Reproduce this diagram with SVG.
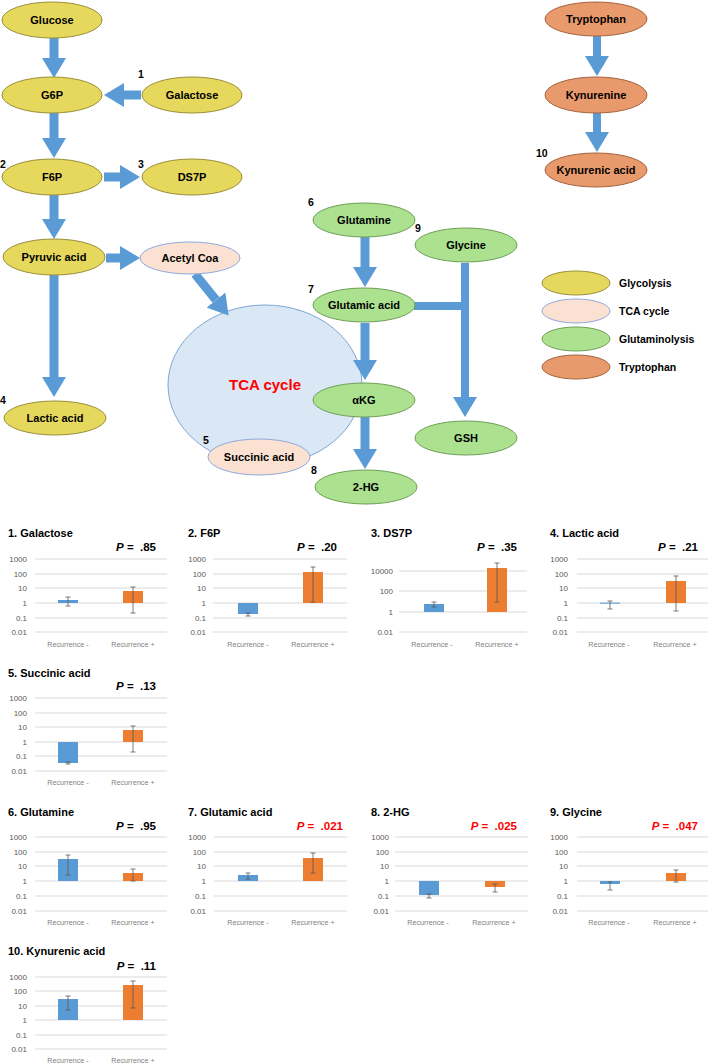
<svg xmlns="http://www.w3.org/2000/svg" width="709" height="1064" viewBox="0 0 709 1064">
<style>
text{font-family:"Liberation Sans",Arial,sans-serif}
.nt{font-size:11px;font-weight:bold;fill:#000;text-anchor:middle}
.num{font-size:10.5px;font-weight:bold;fill:#000}
.gly{fill:#E6D85C;stroke:#9A8F3A;stroke-width:1}
.tca{fill:#FBE1D2;stroke:#8EAADB;stroke-width:1}
.glu{fill:#ACE190;stroke:#6F9F58;stroke-width:1}
.try{fill:#E89A6C;stroke:#A5633E;stroke-width:1}
.arr{stroke:#5B9BD5;stroke-width:9;fill:none}
.lt{font-size:10.5px;font-weight:bold;fill:#000}
.ttl{font-size:11px;font-weight:bold;fill:#000}
.p{font-size:11.5px;font-weight:bold;fill:#000;text-anchor:end}
.pr{fill:#FF0000}
.yl{font-size:8px;fill:#595959;text-anchor:end}
.xl{font-size:7.2px;fill:#7F7F7F;text-anchor:middle}
.gl{stroke:#D9D9D9;stroke-width:1}
.bb{fill:#5B9BD5}
.ob{fill:#ED7D31}
.eb{stroke:#595959;stroke-width:0.8;fill:none}
</style>
<defs>
<marker id="ah" markerUnits="userSpaceOnUse" viewBox="0 0 20 24" markerWidth="20" markerHeight="24" refX="0" refY="12" orient="auto">
<path d="M0,0 L20,12 L0,24 z" fill="#5B9BD5"/>
</marker>
</defs>

<g id="tca-cycle">
<ellipse cx="265" cy="385" rx="97" ry="80" fill="#DAE7F5" stroke="#7FA6D1" stroke-width="1"/>
<text x="265" y="390" font-size="15" font-weight="bold" fill="#FF0000" text-anchor="middle">TCA cycle</text>
</g>

<g id="connectors">
<line class="arr" x1="54" y1="38" x2="54" y2="58" marker-end="url(#ah)"/>
<line class="arr" x1="141" y1="95" x2="124" y2="95" marker-end="url(#ah)"/>
<line class="arr" x1="54" y1="113" x2="54" y2="138" marker-end="url(#ah)"/>
<line class="arr" x1="104" y1="177" x2="120" y2="177" marker-end="url(#ah)"/>
<line class="arr" x1="54" y1="195" x2="54" y2="219" marker-end="url(#ah)"/>
<line class="arr" x1="106" y1="258" x2="120" y2="258" marker-end="url(#ah)"/>
<line class="arr" x1="195" y1="274" x2="216" y2="300" marker-end="url(#ah)"/>
<line class="arr" x1="54" y1="275" x2="54" y2="377" marker-end="url(#ah)"/>
<line class="arr" x1="365" y1="237" x2="365" y2="267" marker-end="url(#ah)"/>
<line class="arr" x1="365" y1="323" x2="365" y2="360" marker-end="url(#ah)"/>
<line class="arr" x1="365" y1="417" x2="365" y2="449" marker-end="url(#ah)"/>
<line class="arr" x1="414" y1="306" x2="469" y2="306" style="stroke-width:8"/>
<line class="arr" x1="465" y1="263" x2="465" y2="397" marker-end="url(#ah)" style="stroke-width:8"/>
<line class="arr" x1="597" y1="36" x2="597" y2="56" marker-end="url(#ah)" style="stroke-width:8"/>
<line class="arr" x1="597" y1="113" x2="597" y2="132" marker-end="url(#ah)" style="stroke-width:8"/>
</g>

<g id="glucose"><ellipse class="gly" cx="52" cy="20" rx="50" ry="18"/><text class="nt" x="52" y="24">Glucose</text></g>
<g id="g6p"><ellipse class="gly" cx="52" cy="95" rx="50" ry="18"/><text class="nt" x="52" y="99">G6P</text></g>
<g id="galactose"><ellipse class="gly" cx="192" cy="95" rx="50" ry="18"/><text class="nt" x="192" y="99">Galactose</text><text class="num" x="138" y="78">1</text></g>
<g id="f6p"><ellipse class="gly" cx="52" cy="177" rx="50" ry="18"/><text class="nt" x="52" y="181">F6P</text><text class="num" x="0" y="168">2</text></g>
<g id="ds7p"><ellipse class="gly" cx="192" cy="177" rx="50" ry="18"/><text class="nt" x="192" y="181">DS7P</text><text class="num" x="138" y="168">3</text></g>
<g id="pyruvic-acid"><ellipse class="gly" cx="54" cy="257" rx="51" ry="18"/><text class="nt" x="54" y="261">Pyruvic acid</text></g>
<g id="acetyl-coa"><ellipse class="tca" cx="190" cy="258" rx="50" ry="16"/><text class="nt" x="190" y="262">Acetyl Coa</text></g>
<g id="lactic-acid"><ellipse class="gly" cx="55" cy="418" rx="51" ry="17"/><text class="nt" x="55" y="422">Lactic acid</text><text class="num" x="0" y="404">4</text></g>
<g id="succinic-acid"><ellipse class="tca" cx="259" cy="457" rx="51" ry="18"/><text class="nt" x="259" y="461">Succinic acid</text><text class="num" x="203" y="444">5</text></g>
<g id="glutamine"><ellipse class="glu" cx="364" cy="220" rx="51" ry="17"/><text class="nt" x="364" y="224">Glutamine</text><text class="num" x="308" y="206">6</text></g>
<g id="glycine"><ellipse class="glu" cx="466" cy="245" rx="51" ry="17"/><text class="nt" x="466" y="249">Glycine</text><text class="num" x="415" y="232">9</text></g>
<g id="glutamic-acid"><ellipse class="glu" cx="364" cy="305" rx="51" ry="17"/><text class="nt" x="364" y="309">Glutamic acid</text><text class="num" x="308" y="293">7</text></g>
<g id="akg"><ellipse class="glu" cx="364" cy="400" rx="51" ry="17"/><text class="nt" x="364" y="404">αKG</text></g>
<g id="gsh"><ellipse class="glu" cx="466" cy="438" rx="51" ry="17"/><text class="nt" x="466" y="442">GSH</text></g>
<g id="2-hg"><ellipse class="glu" cx="366" cy="487" rx="51" ry="17"/><text class="nt" x="366" y="491">2-HG</text><text class="num" x="311" y="474">8</text></g>
<g id="tryptophan"><ellipse class="try" cx="596" cy="19" rx="51" ry="17"/><text class="nt" x="596" y="23">Tryptophan</text></g>
<g id="kynurenine"><ellipse class="try" cx="596" cy="95" rx="51" ry="18"/><text class="nt" x="596" y="99">Kynurenine</text></g>
<g id="kynurenic-acid"><ellipse class="try" cx="596" cy="170" rx="51" ry="17"/><text class="nt" x="596" y="174">Kynurenic acid</text><text class="num" x="536" y="157">10</text></g>

<g id="legend">
<ellipse class="gly" cx="576" cy="283" rx="34" ry="12"/><text class="lt" x="619" y="287">Glycolysis</text>
<ellipse class="tca" cx="576" cy="311" rx="34" ry="12"/><text class="lt" x="619" y="315">TCA cycle</text>
<ellipse class="glu" cx="576" cy="339" rx="34" ry="12"/><text class="lt" x="619" y="343">Glutaminolysis</text>
<ellipse class="try" cx="576" cy="367" rx="34" ry="12"/><text class="lt" x="619" y="371">Tryptophan</text>
</g>

<g id="chart-1">
<text class="ttl" x="8" y="537">1. Galactose</text>
<text class="p" x="156" y="551"><tspan font-style="italic">P</tspan> =&#160; .85</text>
<g class="gl"><line x1="35" y1="559" x2="167" y2="559"/><line x1="35" y1="574" x2="167" y2="574"/><line x1="35" y1="588" x2="167" y2="588"/><line x1="35" y1="603" x2="167" y2="603"/><line x1="35" y1="618" x2="167" y2="618"/><line x1="35" y1="632" x2="167" y2="632"/></g>
<text class="yl" x="27" y="562">1000</text><text class="yl" x="27" y="577">100</text><text class="yl" x="27" y="591">10</text><text class="yl" x="27" y="606">1</text><text class="yl" x="27" y="621">0.1</text><text class="yl" x="27" y="635">0.01</text>
<rect class="bb" x="58" y="600" width="20" height="3"/><rect class="ob" x="123" y="591" width="20" height="12"/>
<path class="eb" d="M68,597V606M65.5,597H70.5M65.5,606H70.5M133,587V613M130.5,587H135.5M130.5,613H135.5"/>
<text class="xl" x="68" y="647">Recurrence -</text><text class="xl" x="133" y="647">Recurrence +</text>
</g>

<g id="chart-2">
<text class="ttl" x="188" y="537">2. F6P</text>
<text class="p" x="337" y="551"><tspan font-style="italic">P</tspan> =&#160; .20</text>
<g class="gl"><line x1="213" y1="559" x2="347" y2="559"/><line x1="213" y1="574" x2="347" y2="574"/><line x1="213" y1="588" x2="347" y2="588"/><line x1="213" y1="603" x2="347" y2="603"/><line x1="213" y1="618" x2="347" y2="618"/><line x1="213" y1="632" x2="347" y2="632"/></g>
<text class="yl" x="206" y="562">1000</text><text class="yl" x="206" y="577">100</text><text class="yl" x="206" y="591">10</text><text class="yl" x="206" y="606">1</text><text class="yl" x="206" y="621">0.1</text><text class="yl" x="206" y="635">0.01</text>
<rect class="bb" x="238" y="603" width="20" height="11"/><rect class="ob" x="303" y="572" width="20" height="31"/>
<path class="eb" d="M248,613V616M245.5,613H250.5M245.5,616H250.5M313,567V602M310.5,567H315.5M310.5,602H315.5"/>
<text class="xl" x="248" y="647">Recurrence -</text><text class="xl" x="313" y="647">Recurrence +</text>
</g>

<g id="chart-3">
<text class="ttl" x="371" y="537">3. DS7P</text>
<text class="p" x="517" y="551"><tspan font-style="italic">P</tspan> =&#160; .35</text>
<g class="gl"><line x1="399" y1="571" x2="527" y2="571"/><line x1="399" y1="591" x2="527" y2="591"/><line x1="399" y1="612" x2="527" y2="612"/><line x1="399" y1="632" x2="527" y2="632"/></g>
<text class="yl" x="393" y="574">10000</text><text class="yl" x="393" y="594">100</text><text class="yl" x="393" y="615">1</text><text class="yl" x="393" y="635">0.01</text>
<rect class="bb" x="424" y="604" width="20" height="8"/><rect class="ob" x="487" y="568" width="20" height="44"/>
<path class="eb" d="M434,602V607M431.5,602H436.5M431.5,607H436.5M497,563V602M494.5,563H499.5M494.5,602H499.5"/>
<text class="xl" x="432" y="647">Recurrence -</text><text class="xl" x="497" y="647">Recurrence +</text>
</g>

<g id="chart-4">
<text class="ttl" x="550" y="537">4. Lactic acid</text>
<text class="p" x="698" y="551"><tspan font-style="italic">P</tspan> =&#160; .21</text>
<g class="gl"><line x1="577" y1="559" x2="708" y2="559"/><line x1="577" y1="574" x2="708" y2="574"/><line x1="577" y1="588" x2="708" y2="588"/><line x1="577" y1="603" x2="708" y2="603"/><line x1="577" y1="618" x2="708" y2="618"/><line x1="577" y1="632" x2="708" y2="632"/></g>
<text class="yl" x="568" y="562">1000</text><text class="yl" x="568" y="577">100</text><text class="yl" x="568" y="591">10</text><text class="yl" x="568" y="606">1</text><text class="yl" x="568" y="621">0.1</text><text class="yl" x="568" y="635">0.01</text>
<rect class="bb" x="600" y="602.5" width="20" height="1.5" opacity="0.7"/><rect class="ob" x="666" y="581" width="20" height="22"/>
<path class="eb" d="M610,601V609M607.5,601H612.5M607.5,609H612.5M676,576V611M673.5,576H678.5M673.5,611H678.5"/>
<text class="xl" x="609" y="647">Recurrence -</text><text class="xl" x="675" y="647">Recurrence +</text>
</g>

<g id="chart-5">
<text class="ttl" x="8" y="677">5. Succinic acid</text>
<text class="p" x="156" y="690"><tspan font-style="italic">P</tspan> =&#160; .13</text>
<g class="gl"><line x1="35" y1="698" x2="167" y2="698"/><line x1="35" y1="713" x2="167" y2="713"/><line x1="35" y1="727" x2="167" y2="727"/><line x1="35" y1="742" x2="167" y2="742"/><line x1="35" y1="756" x2="167" y2="756"/><line x1="35" y1="771" x2="167" y2="771"/></g>
<text class="yl" x="27" y="701">1000</text><text class="yl" x="27" y="716">100</text><text class="yl" x="27" y="730">10</text><text class="yl" x="27" y="745">1</text><text class="yl" x="27" y="759">0.1</text><text class="yl" x="27" y="774">0.01</text>
<rect class="bb" x="58" y="742" width="20" height="21"/><rect class="ob" x="123" y="730" width="20" height="12"/>
<path class="eb" d="M68,762V764M65.5,762H70.5M65.5,764H70.5M133,726V752M130.5,726H135.5M130.5,752H135.5"/>
<text class="xl" x="68" y="785">Recurrence -</text><text class="xl" x="133" y="785">Recurrence +</text>
</g>

<g id="chart-6">
<text class="ttl" x="8" y="816">6. Glutamine</text>
<text class="p" x="156" y="830"><tspan font-style="italic">P</tspan> =&#160; .95</text>
<g class="gl"><line x1="35" y1="837" x2="167" y2="837"/><line x1="35" y1="852" x2="167" y2="852"/><line x1="35" y1="866" x2="167" y2="866"/><line x1="35" y1="881" x2="167" y2="881"/><line x1="35" y1="896" x2="167" y2="896"/><line x1="35" y1="911" x2="167" y2="911"/></g>
<text class="yl" x="27" y="840">1000</text><text class="yl" x="27" y="855">100</text><text class="yl" x="27" y="869">10</text><text class="yl" x="27" y="884">1</text><text class="yl" x="27" y="899">0.1</text><text class="yl" x="27" y="914">0.01</text>
<rect class="bb" x="58" y="859" width="20" height="22"/><rect class="ob" x="123" y="873" width="20" height="8"/>
<path class="eb" d="M68,855V875M65.5,855H70.5M65.5,875H70.5M133,869V881M130.5,869H135.5M130.5,881H135.5"/>
<text class="xl" x="68" y="925">Recurrence -</text><text class="xl" x="133" y="925">Recurrence +</text>
</g>

<g id="chart-7">
<text class="ttl" x="188" y="816">7. Glutamic acid</text>
<text class="p pr" x="343" y="830"><tspan font-style="italic">P</tspan> =&#160; .021</text>
<g class="gl"><line x1="214" y1="837" x2="347" y2="837"/><line x1="214" y1="852" x2="347" y2="852"/><line x1="214" y1="866" x2="347" y2="866"/><line x1="214" y1="881" x2="347" y2="881"/><line x1="214" y1="896" x2="347" y2="896"/><line x1="214" y1="911" x2="347" y2="911"/></g>
<text class="yl" x="206" y="840">1000</text><text class="yl" x="206" y="855">100</text><text class="yl" x="206" y="869">10</text><text class="yl" x="206" y="884">1</text><text class="yl" x="206" y="899">0.1</text><text class="yl" x="206" y="914">0.01</text>
<rect class="bb" x="238" y="875" width="20" height="6"/><rect class="ob" x="303" y="858" width="20" height="23"/>
<path class="eb" d="M248,873V879M245.5,873H250.5M245.5,879H250.5M313,853V873M310.5,853H315.5M310.5,873H315.5"/>
<text class="xl" x="248" y="925">Recurrence -</text><text class="xl" x="313" y="925">Recurrence +</text>
</g>

<g id="chart-8">
<text class="ttl" x="371" y="816">8. 2-HG</text>
<text class="p pr" x="517" y="830"><tspan font-style="italic">P</tspan> =&#160; .025</text>
<g class="gl"><line x1="395" y1="837" x2="528" y2="837"/><line x1="395" y1="852" x2="528" y2="852"/><line x1="395" y1="866" x2="528" y2="866"/><line x1="395" y1="881" x2="528" y2="881"/><line x1="395" y1="896" x2="528" y2="896"/><line x1="395" y1="911" x2="528" y2="911"/></g>
<text class="yl" x="389" y="840">1000</text><text class="yl" x="389" y="855">100</text><text class="yl" x="389" y="869">10</text><text class="yl" x="389" y="884">1</text><text class="yl" x="389" y="899">0.1</text><text class="yl" x="389" y="914">0.01</text>
<rect class="bb" x="419" y="881" width="20" height="14"/><rect class="ob" x="485" y="881" width="20" height="6"/>
<path class="eb" d="M429,894V898M426.5,894H431.5M426.5,898H431.5M495,884V892M492.5,884H497.5M492.5,892H497.5"/>
<text class="xl" x="428" y="925">Recurrence -</text><text class="xl" x="494" y="925">Recurrence +</text>
</g>

<g id="chart-9">
<text class="ttl" x="550" y="816">9. Glycine</text>
<text class="p pr" x="698" y="830"><tspan font-style="italic">P</tspan> =&#160; .047</text>
<g class="gl"><line x1="577" y1="837" x2="708" y2="837"/><line x1="577" y1="852" x2="708" y2="852"/><line x1="577" y1="866" x2="708" y2="866"/><line x1="577" y1="881" x2="708" y2="881"/><line x1="577" y1="896" x2="708" y2="896"/><line x1="577" y1="911" x2="708" y2="911"/></g>
<text class="yl" x="568" y="840">1000</text><text class="yl" x="568" y="855">100</text><text class="yl" x="568" y="869">10</text><text class="yl" x="568" y="884">1</text><text class="yl" x="568" y="899">0.1</text><text class="yl" x="568" y="914">0.01</text>
<rect class="bb" x="600" y="881" width="20" height="3"/><rect class="ob" x="666" y="873" width="20" height="8"/>
<path class="eb" d="M610,882V890M607.5,882H612.5M607.5,890H612.5M676,870V882M673.5,870H678.5M673.5,882H678.5"/>
<text class="xl" x="609" y="925">Recurrence -</text><text class="xl" x="675" y="925">Recurrence +</text>
</g>

<g id="chart-10">
<text class="ttl" x="8" y="955">10. Kynurenic acid</text>
<text class="p" x="156" y="970"><tspan font-style="italic">P</tspan> =&#160; .11</text>
<g class="gl"><line x1="35" y1="977" x2="167" y2="977"/><line x1="35" y1="991" x2="167" y2="991"/><line x1="35" y1="1006" x2="167" y2="1006"/><line x1="35" y1="1020" x2="167" y2="1020"/><line x1="35" y1="1035" x2="167" y2="1035"/><line x1="35" y1="1049" x2="167" y2="1049"/></g>
<text class="yl" x="27" y="980">1000</text><text class="yl" x="27" y="994">100</text><text class="yl" x="27" y="1009">10</text><text class="yl" x="27" y="1023">1</text><text class="yl" x="27" y="1038">0.1</text><text class="yl" x="27" y="1052">0.01</text>
<rect class="bb" x="58" y="999" width="20" height="21"/><rect class="ob" x="123" y="985" width="20" height="35"/>
<path class="eb" d="M68,996V1010M65.5,996H70.5M65.5,1010H70.5M133,981V1008M130.5,981H135.5M130.5,1008H135.5"/>
<text class="xl" x="68" y="1063">Recurrence -</text><text class="xl" x="133" y="1063">Recurrence +</text>
</g>
</svg>
